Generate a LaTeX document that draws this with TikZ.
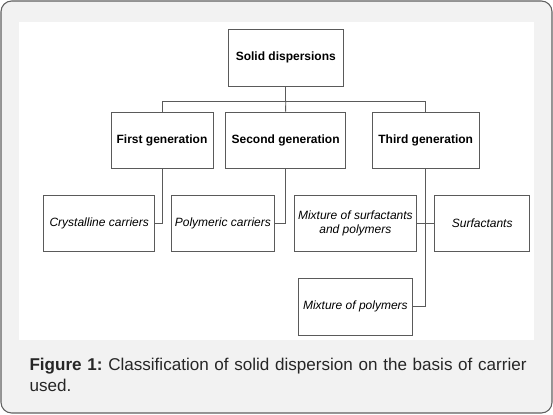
\documentclass[tikz,border=0pt]{standalone}
\usepackage{fontspec}
\setmainfont{Liberation Sans}
\usepackage{xcolor}

\definecolor{panelgray}{RGB}{242,242,242}
\definecolor{framegray}{RGB}{96,96,96}
\definecolor{linegray}{RGB}{90,90,90}

\tikzset{
  classbox/.style={draw=linegray, line width=0.7pt, fill=white, align=center, inner sep=1pt, font=\fontsize{9}{11}\selectfont},
  genbox/.style={classbox, font=\fontsize{9}{11}\selectfont\bfseries},
  carrierbox/.style={classbox, minimum height=41.5pt, font=\fontsize{9}{11}\selectfont\itshape},
  link/.style={draw=linegray, line width=0.7pt}
}

\begin{document}
\frenchspacing
\begin{tikzpicture}[x=0.75pt,y=0.75pt,yscale=-1,xscale=1]
\useasboundingbox (0,0) rectangle (553,414);

% Frame and panel
\draw [fill=panelgray, draw=framegray, line width=0.8pt, rounded corners=8pt] (1,1) rectangle (552,413);
\fill [white] (19,22) rectangle (534,340);

% Top node
\node [genbox, minimum width=85.8pt, minimum height=42.75pt] (solid) at (285.8,57.5) {Solid dispersions};

% Generations
\node [genbox, minimum width=76.5pt, minimum height=42pt] (first) at (162,140) {First generation};
\node [genbox, minimum width=90pt, minimum height=42pt] (second) at (285.6,140) {Second generation};
\node [genbox, minimum width=79.9pt, minimum height=42pt] (third) at (425.7,140) {Third generation};

% Carriers
\node [carrierbox, minimum width=83.6pt] (crystal) at (99.2,223.4) {Crystalline carriers};
\node [carrierbox, minimum width=76.7pt] (polymeric) at (222.9,223.4) {Polymeric carriers};
\node [carrierbox, minimum width=91.3pt] (mixsurf) at (355.4,223.4) {Mixture of surfactants\\and polymers};
\node [carrierbox, minimum width=71.4pt] (surf) at (482.2,223.4) {Surfactants};
\node [carrierbox, minimum width=84.9pt, minimum height=42.5pt] (mixpoly) at (355.4,306.7) {Mixture of polymers};

% Connectors
\draw [link] (solid.south) -- ++(0,14.5) coordinate (bus);
\draw [link] (first.north) |- (bus) -| (third.north);
\draw [link] (bus) -- (second.north);
\draw [link] (first.south) |- (crystal.east);
\draw [link] (second.south) |- (polymeric.east);
\draw [link] (third.south) |- (mixpoly.east);
\draw [link] (mixsurf.east) -- (surf.west);

% Caption
\node [anchor=base west, inner sep=0pt, text width=505*0.75pt, align=left,
       font=\fontsize{12.8}{15.8}\selectfont, text=black!85] (caption) at (29.3,370.7)
  {\hyphenpenalty10000 \textbf{Figure 1:} Classification of solid dispersion on the basis of carrier used.};
\end{tikzpicture}
\end{document}
